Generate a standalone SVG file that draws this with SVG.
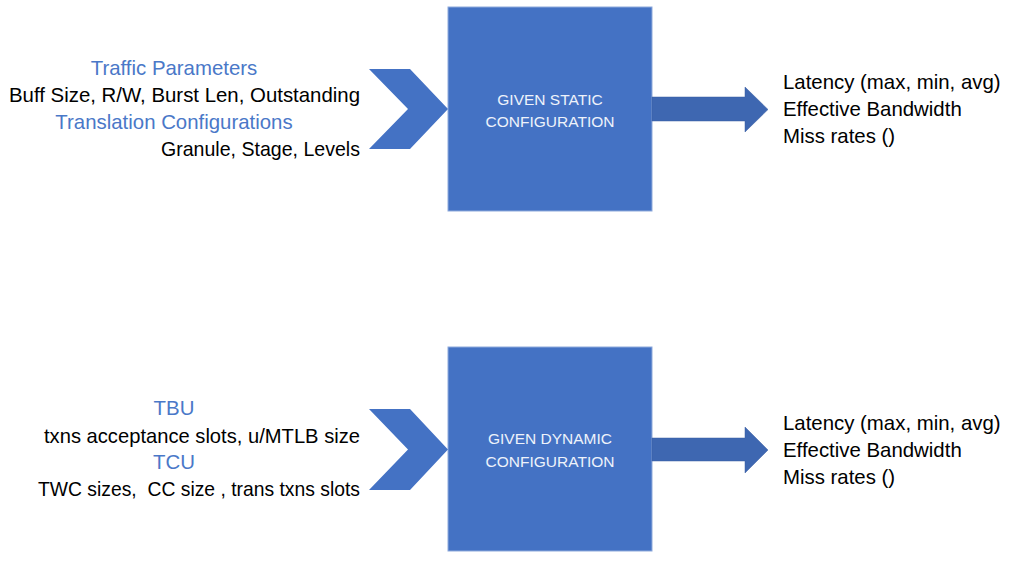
<svg xmlns="http://www.w3.org/2000/svg" width="1020" height="564" viewBox="0 0 1020 564">
<style>
.t{font-family:"Liberation Sans",Arial,sans-serif;font-size:20.4px;fill:#000}
.b{fill:#4472C4}
.h{font-family:"Liberation Sans",Arial,sans-serif;font-size:20.4px;fill:#4a78c8;text-anchor:middle}
.r{text-anchor:end}
.bx{fill:#4472C4;stroke:#8eaadb;stroke-width:1}
.bt{font-family:"Liberation Sans",Arial,sans-serif;font-size:15.5px;fill:#eef2fb;text-anchor:middle}
.ar{fill:#3e67b1;stroke:#3a5fa3;stroke-width:0.5}
</style>
<rect width="1020" height="564" fill="#ffffff"/>
<g id="static-inputs">
<text class="h" x="174" y="75">Traffic Parameters</text>
<text class="t r" x="360" y="102">Buff Size, R/W, Burst Len, Outstanding</text>
<text class="h" x="174" y="129">Translation Configurations</text>
<text class="t r" x="360" y="156" textLength="199" lengthAdjust="spacingAndGlyphs">Granule, Stage, Levels</text>
</g>
<g id="static-box">
<rect class="bx" x="448" y="7" width="204" height="204"/>
<text class="bt" x="550" y="105">GIVEN STATIC</text>
<text class="bt" x="550" y="127">CONFIGURATION</text>
</g>
<g id="static-outputs">
<text class="t" x="783" y="89">Latency (max, min, avg)</text>
<text class="t" x="783" y="116">Effective Bandwidth</text>
<text class="t" x="783" y="143">Miss rates ()</text>
</g>
<g id="dynamic-inputs">
<text class="h" x="174" y="415">TBU</text>
<text class="t r" x="360" y="443" textLength="316" lengthAdjust="spacingAndGlyphs">txns acceptance slots, u/MTLB size</text>
<text class="h" x="174" y="469">TCU</text>
<text class="t r" x="360" y="496" xml:space="preserve" textLength="322" lengthAdjust="spacingAndGlyphs">TWC sizes,  CC size , trans txns slots</text>
</g>
<g id="dynamic-box">
<rect class="bx" x="448" y="347" width="204" height="204"/>
<text class="bt" x="550" y="444">GIVEN DYNAMIC</text>
<text class="bt" x="550" y="467">CONFIGURATION</text>
</g>
<g id="dynamic-outputs">
<text class="t" x="783" y="430">Latency (max, min, avg)</text>
<text class="t" x="783" y="457">Effective Bandwidth</text>
<text class="t" x="783" y="484">Miss rates ()</text>
</g>
<g id="connectors">
<polygon class="b" points="369,69 410,69 448,109 410,149 369,149 408,109"/>
<polygon class="ar" points="652,97 745,97 745,87 768,109.5 745,132 745,121 652,121"/>
<polygon class="b" points="369,409 410,409 448,449.5 410,490 369,490 408,449.5"/>
<polygon class="ar" points="652,438 745,438 745,427 768,450 745,473 745,461 652,461"/>
</g>
</svg>
